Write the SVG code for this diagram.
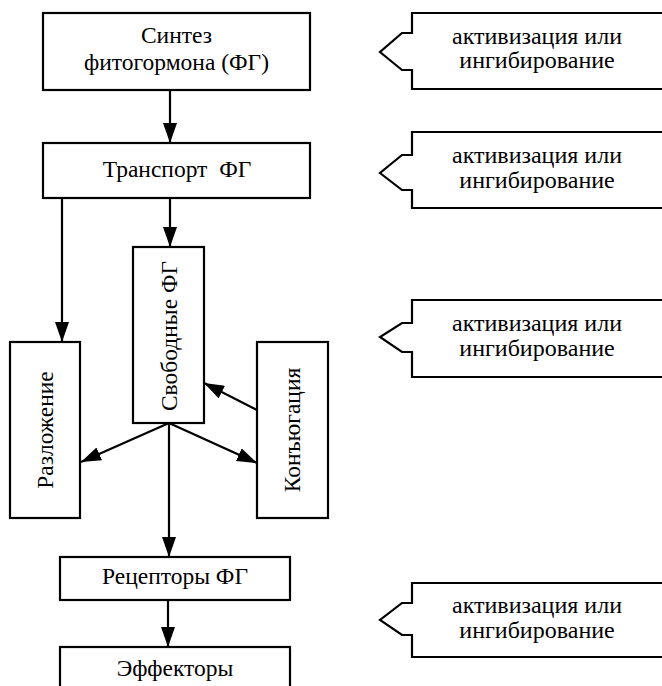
<svg xmlns="http://www.w3.org/2000/svg" width="662" height="686" viewBox="0 0 662 686">
<defs>
<marker id="ah" markerUnits="userSpaceOnUse" markerWidth="20" markerHeight="14" refX="20" refY="7" orient="auto">
<path d="M0,0 L20,7 L0,14 z" fill="#000"/>
</marker>
<style>
.box{fill:#fff;stroke:#000;stroke-width:2.2}
.t{font-family:"Liberation Serif","Times New Roman",serif;font-size:23.5px;fill:#000;text-anchor:middle}
.r{font-family:"Liberation Serif","Times New Roman",serif;font-size:24px;fill:#000;text-anchor:middle}
.c{stroke:#000;stroke-width:2.2;fill:none;marker-end:url(#ah)}
</style>
</defs>
<rect width="662" height="686" fill="#fff"/>
<g id="synth">
<rect class="box" x="43" y="13" width="267" height="77"/>
<text class="t" x="176.5" y="43">Синтез</text>
<text class="t" x="176.5" y="70">фитогормона (ФГ)</text>
</g>
<g id="transport">
<rect class="box" x="43" y="143" width="267" height="55"/>
<text class="t" x="177" y="177">Транспорт&#160; ФГ</text>
</g>
<g id="free">
<rect class="box" x="133" y="247" width="71" height="176"/>
<text class="t" font-size="24" transform="translate(177,336) rotate(-90)">Свободные ФГ</text>
</g>
<g id="decomp">
<rect class="box" x="10" y="342" width="70" height="176"/>
<text class="t" font-size="24" transform="translate(53,430) rotate(-90)">Разложение</text>
</g>
<g id="conj">
<rect class="box" x="257" y="342" width="71" height="176"/>
<text class="t" font-size="24" transform="translate(300,430) rotate(-90)">Конъюгация</text>
</g>
<g id="receptors">
<rect class="box" x="60" y="557" width="230" height="43"/>
<text class="t" x="175" y="584">Рецепторы ФГ</text>
</g>
<g id="effectors">
<rect class="box" x="60" y="647" width="230" height="60"/>
<text class="t" x="175" y="676">Эффекторы</text>
</g>
<g id="reg1">
<path class="box" d="M412,13 L680,13 L680,89 L412,89 L412,70 L402,70 L380,52 L402,33 L412,33 Z"/>
<text class="r" x="537" y="44">активизация или</text>
<text class="r" x="537" y="68">ингибирование</text>
</g>
<g id="reg2">
<path class="box" d="M412,132 L680,132 L680,208 L412,208 L412,190 L402,190 L380,173 L402,155 L412,155 Z"/>
<text class="r" x="537" y="163">активизация или</text>
<text class="r" x="537" y="188">ингибирование</text>
</g>
<g id="reg3">
<path class="box" d="M412,300 L680,300 L680,377 L412,377 L412,352 L402,352 L380,337 L402,323 L412,323 Z"/>
<text class="r" x="537" y="331">активизация или</text>
<text class="r" x="537" y="356">ингибирование</text>
</g>
<g id="reg4">
<path class="box" d="M412,583 L680,583 L680,657 L412,657 L412,635 L402,635 L380,620 L402,603 L412,603 Z"/>
<text class="r" x="537" y="613">активизация или</text>
<text class="r" x="537" y="638">ингибирование</text>
</g>
<g id="connectors">
<line class="c" x1="170" y1="90" x2="170" y2="143"/>
<line class="c" x1="170" y1="198" x2="170" y2="247"/>
<line class="c" x1="62" y1="198" x2="62" y2="342"/>
<line class="c" x1="257" y1="410" x2="204" y2="383"/>
<line class="c" x1="169" y1="423" x2="81" y2="462"/>
<line class="c" x1="169" y1="423" x2="257" y2="463"/>
<line class="c" x1="169" y1="423" x2="169" y2="557"/>
<line class="c" x1="168" y1="600" x2="168" y2="647"/>
</g>
</svg>
